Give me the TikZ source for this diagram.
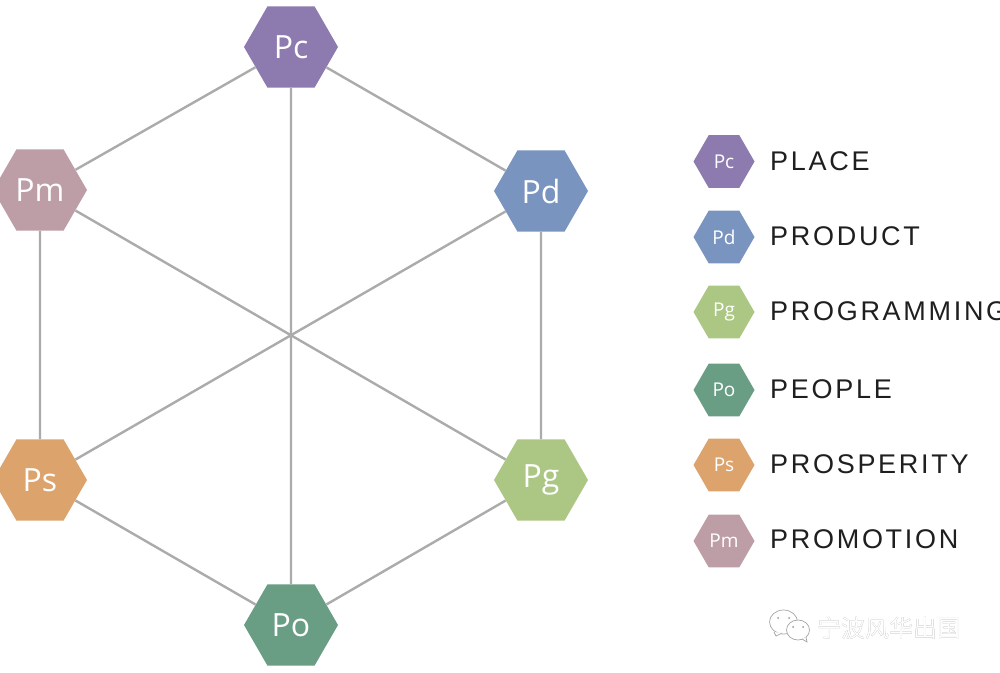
\documentclass[tikz,border=0pt]{standalone}
\usepackage{fontspec}
\setmainfont{Open Sans}
\newfontfamily\legendfont[LetterSpace=10]{Liberation Sans}
\newfontfamily\cjk{Noto Sans CJK SC}
\usetikzlibrary{shapes.geometric}
\definecolor{cPc}{HTML}{8D7BAF}
\definecolor{cPd}{HTML}{7A94C0}
\definecolor{cPg}{HTML}{ABC783}
\definecolor{cPo}{HTML}{699E85}
\definecolor{cPs}{HTML}{DDA36D}
\definecolor{cPm}{HTML}{BE9EA6}
\definecolor{linkc}{HTML}{ABABAB}
\tikzset{
 hexa/.style={regular polygon,regular polygon sides=6,inner sep=0pt,text=white},
 bighex/.style={hexa,minimum size=94pt,font=\fontsize{32}{36}\selectfont},
 smallhex/.style={hexa,minimum size=61pt,font=\fontsize{19}{22}\selectfont},
 link/.style={draw=linkc,line width=2.4pt},
 legendtext/.style={anchor=west,inner sep=0pt,text=black!88,font=\legendfont\fontsize{27}{30}\selectfont},
 wmshade/.style={text=black!45,font=\cjk\fontsize{24}{26}\selectfont,inner sep=0pt,anchor=west},
 wmface/.style={text=white,font=\cjk\fontsize{24}{26}\selectfont,inner sep=0pt,anchor=west},
 bubble/.style={draw=black!35,fill=white,line width=.7pt},
}
\begin{document}
\begin{tikzpicture}[x=1pt,y=-1pt]
\path[use as bounding box,fill=white] (0,0) rectangle (1000,672);
\node[bighex,fill=cPc] (Pc) at (291,47) {Pc};
\node[bighex,fill=cPd] (Pd) at (541,191) {Pd};
\node[bighex,fill=cPg] (Pg) at (541,480) {Pg};
\node[bighex,fill=cPo] (Po) at (291,625) {Po};
\node[bighex,fill=cPs] (Ps) at (40,480) {Ps};
\node[bighex,fill=cPm] (Pm) at (40,190) {Pm};
\draw[link] (Pc) -- (Po);
\draw[link] (Pm) -- (Pg);
\draw[link] (Pd) -- (Ps);
\draw[link] (Pc) -- (Pd);
\draw[link] (Pd) -- (Pg);
\draw[link] (Pg) -- (Po);
\draw[link] (Po) -- (Ps);
\draw[link] (Ps) -- (Pm);
\draw[link] (Pm) -- (Pc);
\node[smallhex,fill=cPc] (l1) at (724,161.5) {Pc};
\node[smallhex,fill=cPd] (l2) at (724,237) {Pd};
\node[smallhex,fill=cPg] (l3) at (724,312) {Pg};
\node[smallhex,fill=cPo] (l4) at (724,390) {Po};
\node[smallhex,fill=cPs] (l5) at (724,465) {Ps};
\node[smallhex,fill=cPm] (l6) at (724,541) {Pm};
\node[legendtext] (t1) at (770,161) {PLACE};
\node[legendtext] (t2) at (770,236) {PRODUCT};
\node[legendtext] (t3) at (770,311) {PROGRAMMING};
\node[legendtext] (t4) at (770,389) {PEOPLE};
\node[legendtext] (t5) at (770,464) {PROSPERITY};
\node[legendtext] (t6) at (770,539) {PROMOTION};
% watermark
\draw[bubble] (783.5,622) ellipse (14 and 12);
\draw[bubble] (774,632) -- (776,636) -- (782,633);
\draw[bubble] (798,630) ellipse (11.5 and 10);
\draw[bubble,fill=white] (802,639) -- (807,642) -- (806,637);
\foreach \p in {(778,618),(789,618),(793,627),(803,627)} \fill[black!40] \p circle (1);
\node[wmshade] (ws) at (817.7,628.7) {宁波风华出国};
\node[wmface] (wf) at (817,628) {宁波风华出国};
\end{tikzpicture}
\end{document}
